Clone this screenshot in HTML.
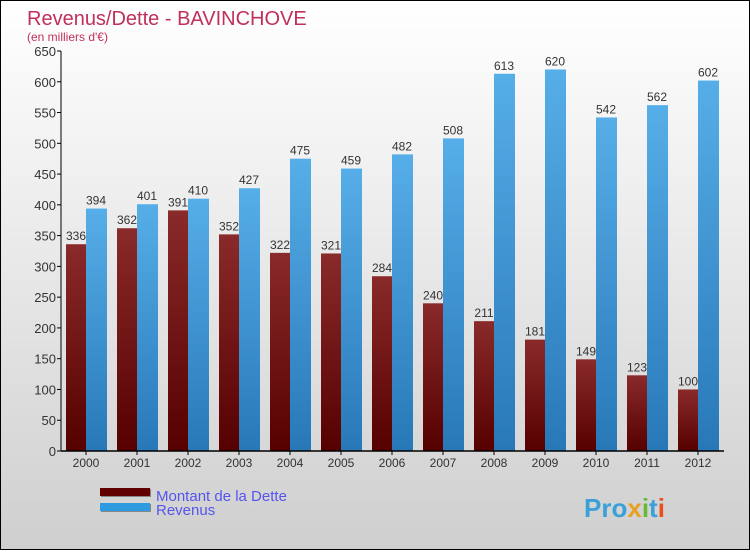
<!DOCTYPE html>
<html><head><meta charset="utf-8"><style>
body{margin:0}
#c{width:748px;height:548px;border:1px solid #000;background:linear-gradient(#fff,#ececec 40%,#cfcfcf);position:relative;font-family:"Liberation Sans",sans-serif}
</style></head><body>
<div id="c">
<svg width="748" height="548" id="s">
<defs>
<linearGradient id="gd" x1="0" y1="0" x2="0" y2="1"><stop offset="0" stop-color="#8a2a2a"/><stop offset="1" stop-color="#560000"/></linearGradient>
<linearGradient id="gr" x1="0" y1="0" x2="0" y2="1"><stop offset="0" stop-color="#56aee8"/><stop offset="1" stop-color="#2878b8"/></linearGradient>
</defs>
<text x="26" y="24" font-size="20" fill="#c0305a">Revenus/Dette - BAVINCHOVE</text>
<text x="26" y="40" font-size="12" fill="#c0305a">(en milliers d'€)</text>
<g id="plot"></g>
<rect x="100" y="488" width="50" height="8" fill="#888"/>
<rect x="99" y="487" width="50" height="8" fill="#600000"/>
<text x="155" y="500" font-size="15" fill="#5555ee">Montant de la Dette</text>
<rect x="100" y="503" width="50" height="8" fill="#888"/>
<rect x="99" y="502" width="50" height="8" fill="#2e9ae0"/>
<text x="155" y="514" font-size="15" fill="#5555ee">Revenus</text>
<text x="583" y="516" font-size="26" font-weight="bold" fill="#3aa0d8">Pro<tspan fill="#e8a020">x</tspan><tspan fill="#66bb33">i</tspan>t<tspan fill="#e85020">i</tspan></text>
</svg>
</div>
<script>
const years=["2000","2001","2002","2003","2004","2005","2006","2007","2008","2009","2010","2011","2012"];
const dette=[336,362,391,352,322,321,284,240,211,181,149,123,100];
const revenus=[394,401,410,427,475,459,482,508,613,620,542,562,602];
const ticks=[0,50,100,150,200,250,300,350,400,450,500,550,600,650];
const NS="http://www.w3.org/2000/svg";
const g=document.getElementById('plot');
const x0=60,step=51,yb=450,k=400/650;
const y=v=>yb-v*k;
function mk(t,a){const e=document.createElementNS(NS,t);for(const n in a)e.setAttribute(n,a[n]);g.appendChild(e);return e;}
ticks.forEach(t=>{
 const l=mk('line',{x1:x0-4,x2:x0,y1:y(t),y2:y(t),stroke:'#000'});
 
 
 const tx=mk('text',{x:x0-5,y:y(t)+5,'font-size':13,fill:'#333','text-anchor':'end'});tx.textContent=t;
 
 
});
years.forEach((yr,i)=>{
 const c=x0+25+i*step;
 const b1=mk('rect',{x:c-20,y:y(dette[i]),width:20,height:dette[i]*k,fill:'url(#gd)'});
 
 
 const b2=mk('rect',{x:c,y:y(revenus[i]),width:21,height:revenus[i]*k,fill:'url(#gr)'});
 
 
 const t1=mk('text',{x:c-10,y:y(dette[i])-4,'font-size':12,fill:'#333','text-anchor':'middle'});t1.textContent=dette[i];
 
 
 const t2=mk('text',{x:c+10,y:y(revenus[i])-4,'font-size':12,fill:'#333','text-anchor':'middle'});t2.textContent=revenus[i];
 
 
 const tk=mk('line',{x1:c,x2:c,y1:yb,y2:yb+4,stroke:'#000'});
 
 
 const xl=mk('text',{x:c,y:yb+16,'font-size':12,fill:'#333','text-anchor':'middle'});xl.textContent=yr;
 
 
});
const ya=mk('line',{x1:x0,x2:x0,y1:y(650),y2:yb,stroke:'#000'});


const xa=mk('line',{x1:x0,x2:x0+13*step,y1:yb,y2:yb,stroke:'#000','stroke-width':1.5});


</script>
</body></html>
